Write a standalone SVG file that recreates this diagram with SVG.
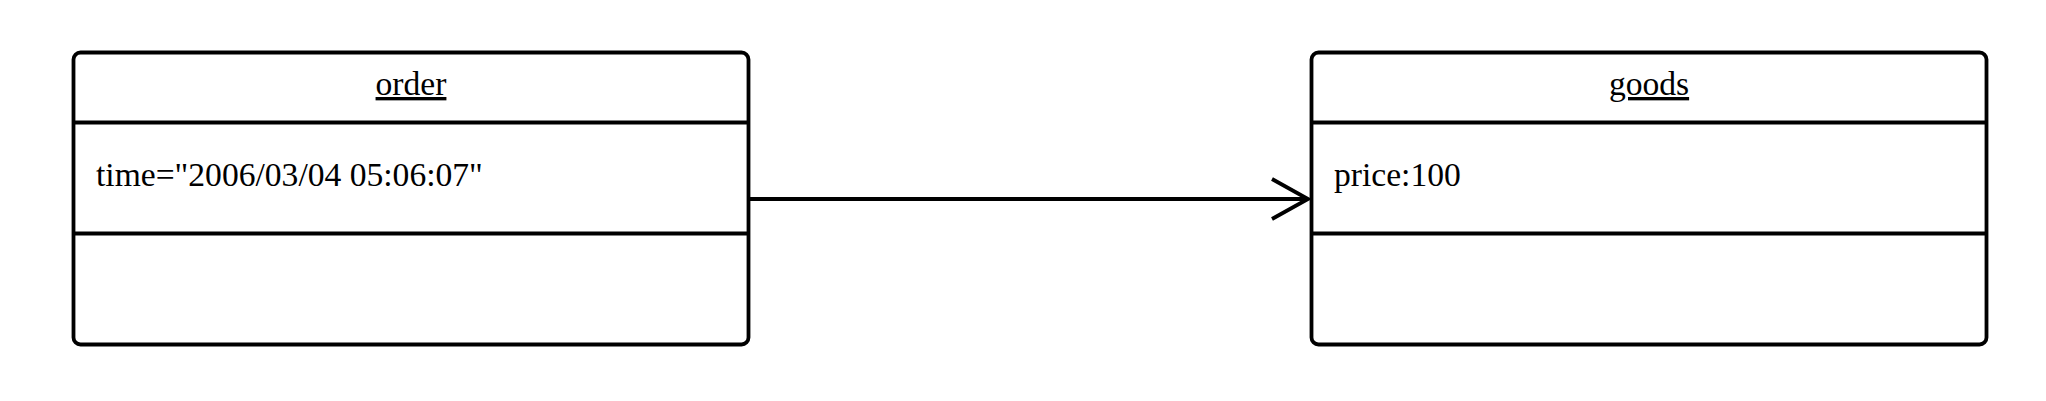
<svg xmlns="http://www.w3.org/2000/svg" width="2046" height="401" viewBox="0 0 2046 401">
<style>
.box{fill:#fff;stroke:#000;stroke-width:3.8}
.div{stroke:#000;stroke-width:3.8}
.t{font-family:"Liberation Serif","Times New Roman",serif;font-size:33.6px;fill:#000}
.h{text-anchor:middle;text-decoration:underline}
.edge{stroke:#000;stroke-width:3.8;fill:none}
</style>
<rect width="2046" height="401" fill="#fff"/>
<g id="order">
<rect class="box" x="73.5" y="52.5" width="675" height="292" rx="7"/>
<line class="div" x1="73.5" y1="122.5" x2="748.5" y2="122.5"/>
<line class="div" x1="73.5" y1="233.5" x2="748.5" y2="233.5"/>
<text class="t h" x="411" y="95">order</text>
<text class="t" x="96" y="186">time="2006/03/04 05:06:07"</text>
</g>
<g id="goods">
<rect class="box" x="1311.5" y="52.5" width="675" height="292" rx="7"/>
<line class="div" x1="1311.5" y1="122.5" x2="1986.5" y2="122.5"/>
<line class="div" x1="1311.5" y1="233.5" x2="1986.5" y2="233.5"/>
<text class="t h" x="1649" y="95">goods</text>
<text class="t" x="1334" y="186">price:100</text>
</g>
<g id="connectors">
<line class="edge" x1="750" y1="199" x2="1308" y2="199"/>
<polyline class="edge" points="1272,179 1308,199 1272,219"/>
</g>
</svg>
